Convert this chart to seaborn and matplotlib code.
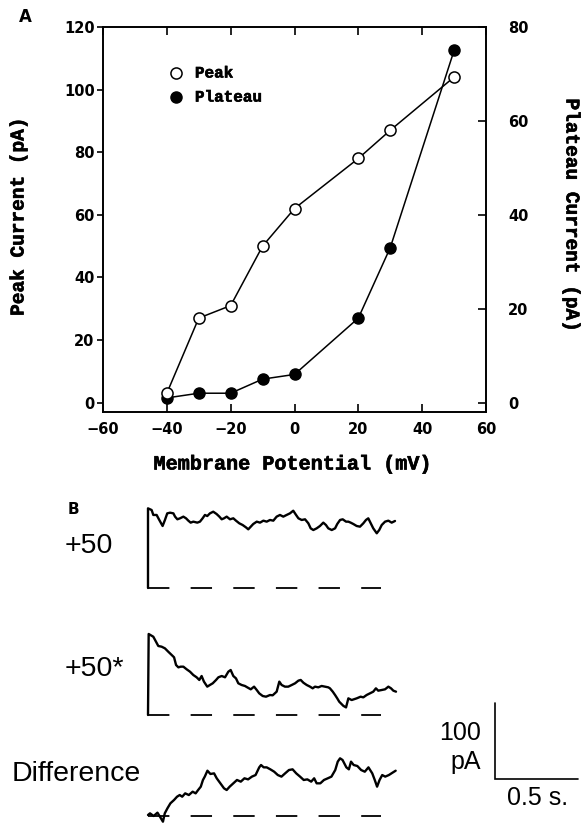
import numpy as np
import pandas as pd
import matplotlib
matplotlib.use("Agg")
import matplotlib.pyplot as plt
import matplotlib.patheffects as pe
import seaborn as sns

# ---------------- Panel A: current-voltage relation ----------------
membrane_potential = [-40, -30, -20, -10, 0, 20, 30, 50]          # mV
peak_current = [3, 27, 31, 50, 62, 78, 87, 104]                   # pA (left axis)
plateau_current = [1, 2, 2, 5, 6, 18, 33, 75]                     # pA (right axis)

x_ticks = [-60, -40, -20, 0, 20, 40, 60]
peak_ticks = [0, 20, 40, 60, 80, 100, 120]
plateau_ticks = [0, 20, 40, 60, 80]

# ---------------- Panel B: current traces (time in s, current in pA) ----------------
trace_p50_time = [0.0, 0.0, 0.022, 0.032, 0.052, 0.068, 0.088, 0.102, 0.116, 0.133,
                  0.153, 0.163, 0.177, 0.193, 0.213, 0.229, 0.243, 0.257, 0.273, 0.297,
                  0.313, 0.329, 0.343, 0.357, 0.373, 0.393, 0.413, 0.430, 0.444, 0.458,
                  0.474, 0.494, 0.514, 0.530, 0.550, 0.570, 0.590, 0.604, 0.619, 0.634,
                  0.655, 0.675, 0.695, 0.715, 0.735, 0.755, 0.775, 0.795,
                  0.815, 0.835, 0.855, 0.875, 0.892, 0.906, 0.926, 0.946, 0.966, 0.980,
                  0.996, 1.016, 1.036, 1.056, 1.072, 1.086, 1.107, 1.127, 1.140, 1.157,
                  1.173, 1.193, 1.207, 1.221, 1.237, 1.257, 1.277, 1.297, 1.313, 1.327,
                  1.337, 1.357, 1.378, 1.393, 1.408, 1.428, 1.448, 1.468, 1.488]
trace_p50_current = [0.0, 104.8, 102.6, 96.1, 96.1, 89.5, 81.6, 89.5, 98.2, 99.1,
                     98.2, 93.9, 90.4, 91.7, 93.9, 91.7, 88.6, 86.0, 87.3, 86.0,
                     87.3, 91.7, 96.1, 94.7, 98.2, 100.4, 97.4, 93.9, 90.4, 91.7,
                     93.9, 90.4, 91.7, 88.6, 85.1, 82.9, 79.8, 77.2, 80.7, 84.2,
                     87.3, 86.0, 88.6, 87.3, 89.5, 88.6, 93.9, 96.1,
                     93.9, 96.1, 98.2, 101.7, 96.1, 91.7, 89.5, 90.4, 85.1, 78.5,
                     76.3, 78.5, 81.6, 86.0, 82.9, 78.5, 76.3, 78.5, 84.2, 89.5,
                     90.4, 87.3, 87.3, 86.0, 84.2, 81.6, 80.7, 85.1, 89.5, 91.7,
                     87.3, 78.5, 72.0, 76.3, 82.9, 87.3, 88.6, 86.0, 88.2]

trace_p50s_time = [0.0, 0.004, 0.032, 0.048, 0.062, 0.082, 0.102, 0.122, 0.143, 0.157,
                   0.169, 0.183, 0.197, 0.213, 0.233, 0.253, 0.273, 0.293, 0.309, 0.323,
                   0.337, 0.357, 0.373, 0.390, 0.410, 0.424, 0.444, 0.464, 0.484, 0.498,
                   0.514, 0.530, 0.544, 0.564, 0.584, 0.598, 0.619, 0.639, 0.655, 0.670,
                   0.691, 0.711, 0.735, 0.751, 0.775, 0.791, 0.805, 0.825, 0.845, 0.866,
                   0.886, 0.906, 0.920, 0.936, 0.956, 0.976, 0.992, 1.006, 1.026, 1.046,
                   1.066, 1.086, 1.096, 1.113, 1.127, 1.140, 1.152, 1.177, 1.193, 1.207,
                   1.227, 1.257, 1.281, 1.297, 1.317, 1.337, 1.357, 1.373, 1.387, 1.408,
                   1.428, 1.448, 1.464, 1.478, 1.494]
trace_p50s_current = [0.0, 106.6, 103.0, 96.5, 90.8, 89.9, 87.7, 83.3, 78.9, 75.9,
                      65.8, 62.7, 63.6, 63.6, 60.1, 57.0, 52.6, 49.6, 46.1, 51.3,
                      43.9, 37.3, 39.5, 41.7, 46.1, 49.6, 51.3, 49.6, 57.0, 59.2,
                      51.3, 48.2, 41.7, 39.5, 38.2, 36.4, 33.8, 37.3, 32.9, 28.5,
                      25.0, 24.1, 26.3, 25.9, 30.7, 43.9, 39.5, 37.3, 37.3, 39.5,
                      41.7, 45.2, 46.1, 42.5, 39.5, 37.3, 35.1, 37.3, 36.4, 38.2,
                      37.3, 36.4, 35.1, 30.7, 26.3, 21.9, 17.5, 12.0, 10.0, 21.9,
                      19.7, 21.9, 24.1, 23.2, 26.3, 28.5, 30.7, 35.1, 32.0, 32.9,
                      33.8, 37.3, 35.1, 32.0, 30.7]

trace_diff_time = [0.0, 0.012, 0.034, 0.057, 0.072, 0.090, 0.101, 0.117, 0.135, 0.157,
                   0.175, 0.191, 0.206, 0.224, 0.246, 0.269, 0.287, 0.302, 0.318, 0.331,
                   0.342, 0.358, 0.376, 0.398, 0.414, 0.436, 0.458, 0.474, 0.492, 0.514,
                   0.536, 0.559, 0.581, 0.603, 0.626, 0.648, 0.670, 0.681, 0.697, 0.715,
                   0.737, 0.760, 0.782, 0.804, 0.826, 0.849, 0.871, 0.893, 0.916, 0.938,
                   0.960, 0.983, 1.001, 1.016, 1.038, 1.060, 1.083, 1.105, 1.128, 1.143,
                   1.157, 1.172, 1.195, 1.210, 1.223, 1.239, 1.261, 1.284, 1.306, 1.328,
                   1.351, 1.366, 1.380, 1.395, 1.411, 1.429, 1.451, 1.473, 1.492]
trace_diff_current = [1.3, 3.5, 0.0, 4.4, -0.9, -7.5, 3.5, 10.1, 16.7, 21.1,
                      25.4, 27.6, 25.4, 29.8, 27.6, 32.0, 29.8, 34.2, 38.6, 47.4,
                      51.8, 59.6, 55.3, 56.1, 49.6, 43.0, 36.4, 34.2, 38.6, 43.0,
                      47.4, 45.2, 49.6, 48.2, 51.8, 53.9, 64.0, 67.1, 64.0, 64.0,
                      61.4, 58.3, 53.9, 51.8, 56.1, 60.5, 61.4, 56.1, 51.8, 47.4,
                      48.2, 45.2, 49.6, 43.0, 43.0, 47.4, 49.6, 51.8, 60.5, 71.5,
                      75.9, 73.7, 64.0, 61.4, 71.5, 67.1, 65.8, 60.5, 58.3, 64.0,
                      56.1, 47.4, 38.6, 47.4, 53.9, 51.8, 53.9, 57.0, 59.6]

trace_labels = ["+50", "+50*", "Difference"]
pulse_duration = 1.404        # extent of the dashed zero-current line (s)
scale_current = 100           # pA
scale_time = 0.5              # s

# ---------------- figure set-up ----------------
W, H, DPI = 581, 825, 100
sns.set_theme(style="ticks")
plt.rcParams["font.family"] = ["DejaVu Sans"]
plt.rcParams["lines.scale_dashes"] = False
plt.rcParams["axes.linewidth"] = 1.2
for key in ("text.color", "axes.labelcolor", "xtick.color", "ytick.color", "axes.edgecolor"):
    plt.rcParams[key] = "black"

fig = plt.figure(figsize=(W / DPI, H / DPI), dpi=DPI)
fig.patch.set_facecolor("white")


def fig_box(left, top, right, bottom):
    """Axes rectangle from pixel edges (origin top-left)."""
    return [left / W, 1 - bottom / H, (right - left) / W, (bottom - top) / H]


def fpos(px, py):
    return px / W, 1 - py / H


# heavy typewriter-style lettering for the axis titles and legend
heavy = [pe.withStroke(linewidth=0.45, foreground="black")]
label_font = dict(family="Liberation Mono", weight="bold", path_effects=heavy)
tick_font = dict(family="DejaVu Sans", weight="bold")

# ---------------- Panel A ----------------
ax = fig.add_axes(fig_box(103, 27, 486, 412))
ax2 = ax.twinx()

iv = pd.DataFrame({"V": membrane_potential, "peak": peak_current, "plateau": plateau_current})

sns.lineplot(data=iv, x="V", y="plateau", ax=ax2, color="black", linewidth=1.1,
             marker="o", markersize=8, markerfacecolor="black",
             markeredgecolor="black", markeredgewidth=1.0)
sns.lineplot(data=iv, x="V", y="peak", ax=ax, color="black", linewidth=1.1,
             marker="o", markersize=8, markerfacecolor="white",
             markeredgecolor="black", markeredgewidth=1.1)

ax.set_zorder(ax2.get_zorder() + 1)
ax.patch.set_visible(False)

ax.set_xlim(-60, 60)
ax.set_ylim(-3, 120)
ax2.set_ylim(-2, 80)
ax.set_xticks(x_ticks)
ax.set_yticks(peak_ticks)
ax2.set_yticks(plateau_ticks)
ax.set_xlabel("")
ax.set_ylabel("")
ax2.set_ylabel("")

ax.tick_params(axis="x", direction="in", length=6, width=1.2, top=True, bottom=True,
               pad=7, labelsize=10.5, colors="black")
ax.tick_params(axis="y", direction="out", length=4, width=1.2, pad=2,
               labelsize=10.5, colors="black")
ax2.tick_params(axis="y", direction="in", length=6, width=1.2, pad=16,
                labelsize=10.5, colors="black")
for lbl in ax.get_xticklabels() + ax.get_yticklabels() + ax2.get_yticklabels():
    lbl.set_fontweight("bold")
for a in (ax, ax2):
    for sp in a.spines.values():
        sp.set_visible(True)
        sp.set_color("black")
        sp.set_linewidth(1.2)

# legend
ax.plot([0.19], [0.8805], transform=ax.transAxes, marker="o", markersize=8,
        markerfacecolor="white", markeredgecolor="black", markeredgewidth=1.1,
        linestyle="none", clip_on=False)
ax.plot([0.19], [0.818], transform=ax.transAxes, marker="o", markersize=8,
        markerfacecolor="black", markeredgecolor="black", linestyle="none", clip_on=False)
ax.text(0.24, 0.8805, "Peak", transform=ax.transAxes, va="center", ha="left",
        fontsize=11.5, **label_font)
ax.text(0.24, 0.818, "Plateau", transform=ax.transAxes, va="center", ha="left",
        fontsize=11.5, **label_font)

fig.text(*fpos(19, 216), "Peak Current (pA)", rotation=90, ha="center", va="center",
         fontsize=14, **label_font)
fig.text(*fpos(571, 216), "Plateau Current (pA)", rotation=-90, ha="center", va="center",
         fontsize=14, **label_font)
fig.text(*fpos(293, 464), "Membrane Potential (mV)", ha="center", va="center",
         fontsize=14.5, **label_font)
fig.text(*fpos(25, 17), "A", ha="center", va="center", fontsize=12, **tick_font)

# ---------------- Panel B ----------------
PX_PER_S = 166.0
PX_PER_PA = 0.76
T0_PX = 148
TOP_PX = 490

axb = fig.add_axes(fig_box(0, TOP_PX, W, H))
axb.set_xlim(-T0_PX / PX_PER_S, (W - T0_PX) / PX_PER_S)
axb.set_ylim(0, (H - TOP_PX) / PX_PER_PA)
axb.axis("off")
axb.set_zorder(0)


def level(py):
    """Zero-current level of a trace placed at pixel row py."""
    return (H - py) / PX_PER_PA


traces = [
    (trace_p50_time, trace_p50_current, 588, 546, 65),
    (trace_p50s_time, trace_p50s_current, 715, 669, 65),
    (trace_diff_time, trace_diff_current, 816, 774, 12),
]
for (t, cur, base_py, label_py, label_px), name in zip(traces, trace_labels):
    base = level(base_py)
    df = pd.DataFrame({"t": t, "I": np.asarray(cur) + base})
    sns.lineplot(data=df, x="t", y="I", ax=axb, color="black", linewidth=1.7,
                 estimator=None, sort=False)
    axb.plot([0, pulse_duration], [base, base], color="black", linewidth=1.3,
             linestyle=(0, (15.4, 15.3)), solid_capstyle="butt")
    fig.text(*fpos(label_px, label_py), name, ha="left", va="center",
             fontsize=20.5, family="Liberation Sans", color="black")
axb.set_xlabel("")
axb.set_ylabel("")

# scale bar
sb_t = (495 - T0_PX) / PX_PER_S
sb_y = level(779)
axb.plot([sb_t, sb_t, sb_t + scale_time], [sb_y + scale_current, sb_y, sb_y],
         color="black", linewidth=1.2, solid_joinstyle="miter")
fig.text(*fpos(481, 733), f"{scale_current}", ha="right", va="center",
         fontsize=18, family="Liberation Sans", color="black")
fig.text(*fpos(481, 762), "pA", ha="right", va="center",
         fontsize=18, family="Liberation Sans", color="black")
fig.text(*fpos(538, 798), f"{scale_time} s.", ha="center", va="center",
         fontsize=18, family="Liberation Sans", color="black")
fig.text(*fpos(73, 510), "B", ha="center", va="center", fontsize=11, **tick_font)

fig.savefig("out.png", dpi=DPI, facecolor="white")
